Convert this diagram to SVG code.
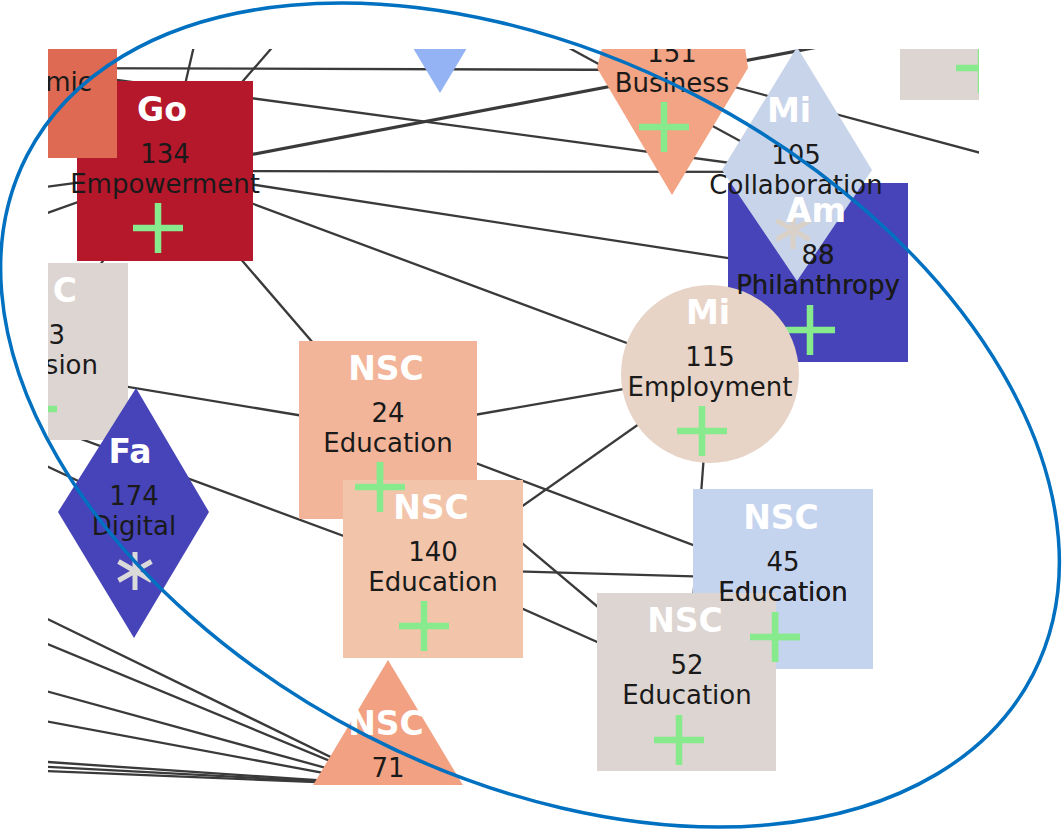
<svg xmlns="http://www.w3.org/2000/svg" xmlns:xlink="http://www.w3.org/1999/xlink" width="1063" height="829" viewBox="0 0 1063 829">
<style>
.e{stroke:#3a3a3a;stroke-width:2.3;fill:none}
.lbl{font-family:"DejaVu Sans","Liberation Sans",sans-serif;font-weight:bold;font-size:33px;fill:#ffffff;text-anchor:middle}
.t{font-family:"DejaVu Sans","Liberation Sans",sans-serif;font-size:26px;fill:#1a1a1a;text-anchor:middle}
.end{text-anchor:end}
</style>
<defs>
<clipPath id="clip"><rect x="48" y="49" width="931" height="736"/></clipPath>
<g id="plus"><path d="M-25 0H25M0 -25V25" stroke="#87eb8d" stroke-width="6.5" fill="none"/></g>
<g id="ast"><path d="M0 -19V19M-16.5 -9.5L16.5 9.5M-16.5 9.5L16.5 -9.5" stroke-width="5" fill="none"/></g>
</defs>
<rect x="0" y="0" width="1063" height="829" fill="#ffffff"/>
<g clip-path="url(#clip)">
<g id="edges">
<line class="e" x1="29" y1="68" x2="671" y2="70"/>
<line class="e" x1="165" y1="171" x2="960" y2="20" style="stroke-width:3.2"/>
<line class="e" x1="29" y1="68" x2="797" y2="172"/>
<line class="e" x1="165" y1="171" x2="797" y2="172"/>
<line class="e" x1="165" y1="171" x2="818" y2="272"/>
<line class="e" x1="165" y1="171" x2="710" y2="374"/>
<line class="e" x1="165" y1="171" x2="388" y2="430"/>
<line class="e" x1="165" y1="171" x2="200" y2="20"/>
<line class="e" x1="165" y1="171" x2="296" y2="20"/>
<line class="e" x1="165" y1="171" x2="40" y2="352"/>
<line class="e" x1="165" y1="171" x2="-200" y2="220"/>
<line class="e" x1="165" y1="171" x2="-200" y2="301"/>
<line class="e" x1="388" y1="430" x2="-100" y2="349"/>
<line class="e" x1="433" y1="569" x2="-100" y2="372"/>
<line class="e" x1="140" y1="510" x2="-100" y2="397"/>
<line class="e" x1="388" y1="785" x2="-100" y2="547"/>
<line class="e" x1="388" y1="785" x2="-100" y2="583"/>
<line class="e" x1="388" y1="785" x2="-100" y2="651"/>
<line class="e" x1="388" y1="785" x2="-100" y2="694"/>
<line class="e" x1="388" y1="785" x2="-100" y2="752"/>
<line class="e" x1="388" y1="785" x2="-100" y2="759"/>
<line class="e" x1="388" y1="785" x2="-100" y2="765"/>
<line class="e" x1="388" y1="430" x2="710" y2="374"/>
<line class="e" x1="433" y1="569" x2="710" y2="374"/>
<line class="e" x1="388" y1="430" x2="783" y2="579"/>
<line class="e" x1="433" y1="569" x2="783" y2="579"/>
<line class="e" x1="388" y1="430" x2="687" y2="682"/>
<line class="e" x1="433" y1="569" x2="687" y2="682"/>
<line class="e" x1="710" y1="374" x2="687" y2="682"/>
<line class="e" x1="797" y1="172" x2="481" y2="0"/>
<line class="e" x1="671" y1="70" x2="1100" y2="185"/>
</g>
<g id="node-blue-triangle"><polygon points="365,-32 515,-32 440,93" fill="#93b3f5"/></g>
<g id="node-business"><polygon points="604,40 744,40 748,68 672,195 597,68" fill="#f3a484"/><use xlink:href="#plus" x="664" y="127"/><text class="t" x="672" y="62">151</text><text class="t" x="672" y="92">Business</text></g>
<g id="node-top-right"><rect x="900" y="-78" width="176" height="178" fill="#ddd5d1"/><use xlink:href="#plus" x="981" y="68"/></g>
<g id="node-go"><rect x="77" y="81" width="176" height="180" fill="#b5172b"/><use xlink:href="#plus" x="158" y="228"/><text class="lbl" x="162" y="121">Go</text><text class="t" x="165" y="163">134</text><text class="t" x="165" y="193">Empowerment</text></g>
<g id="node-mic"><rect x="-59" y="-22" width="176" height="180" fill="#de6a53"/><text class="t end" x="92" y="91">mic</text></g>
<g id="node-sion"><rect x="-48" y="263" width="176" height="177" fill="#ddd5d1"/><use xlink:href="#plus" x="32" y="409"/><text class="lbl end" x="77" y="302">C</text><text class="t end" x="65" y="344">3</text><text class="t end" x="98" y="374">sion</text></g>
<g id="node-fa"><polygon points="136,388 209,512 134,638 58,512" fill="#4644b8"/><use xlink:href="#ast" x="135" y="571" stroke="#dadada"/><text class="lbl" x="130" y="463">Fa</text><text class="t" x="134" y="505">174</text><text class="t" x="134" y="535">Digital</text></g>
<g id="node-nsc24"><rect x="299" y="341" width="178" height="178" fill="#f3b599"/><use id="plus24" xlink:href="#plus" x="380" y="487"/><text class="lbl" x="386" y="380">NSC</text><text class="t" x="388" y="422">24</text><text class="t" x="388" y="452">Education</text></g>
<g id="node-nsc140"><rect x="343" y="480" width="180" height="178" fill="#f2c5ab"/><use xlink:href="#plus" x="424" y="626"/><text class="lbl" x="431" y="519">NSC</text><text class="t" x="433" y="561">140</text><text class="t" x="433" y="591">Education</text></g>
<g id="node-nsc71"><polygon points="388,660 488,827 288,827" fill="#f2a283"/><text class="lbl" x="386" y="735">NSC</text><text class="t" x="388" y="777">71</text></g>
<g id="node-philanthropy"><rect x="728" y="183" width="180" height="179" fill="#4644b8"/><use xlink:href="#plus" x="810" y="330"/><text id="am-l" class="lbl" x="816" y="222">Am</text><text id="am-n" class="t" x="818" y="264">88</text><text id="am-c" class="t" x="818" y="294">Philanthropy</text></g>
<g id="node-collaboration"><polygon points="797,47 872,170 797,281 722,170" fill="#c8d4e9"/><use xlink:href="#ast" x="793" y="230" stroke="#d9d1c8"/><text class="lbl" x="789" y="122">Mi</text><text class="t" x="796" y="164">105</text><text class="t" x="796" y="194">Collaboration</text></g>
<g id="node-employment"><circle cx="710" cy="374" r="89" fill="#e8d4c7"/><use xlink:href="#plus" x="702" y="431"/><text class="lbl" x="708" y="324">Mi</text><text class="t" x="710" y="366">115</text><text class="t" x="710" y="396">Employment</text></g>
<g id="node-nsc45"><rect x="693" y="489" width="180" height="180" fill="#c5d4ee"/><use id="plus45" xlink:href="#plus" x="775" y="637"/><text class="lbl" x="781" y="529">NSC</text><text class="t" x="783" y="571">45</text><text id="ed45" class="t" x="783" y="601">Education</text></g>
<g id="node-nsc52"><rect x="597" y="593" width="179" height="178" fill="#ddd5d1"/><use xlink:href="#plus" x="679" y="740"/><text class="lbl" x="685" y="632">NSC</text><text class="t" x="687" y="674">52</text><text class="t" x="687" y="704">Education</text></g>
<g id="overlay">
<use xlink:href="#plus24"/>
<use xlink:href="#plus45"/>
<use xlink:href="#ed45"/>
<use xlink:href="#am-l"/>
<use xlink:href="#am-n"/>
<use xlink:href="#am-c"/>
</g>
</g>
<ellipse id="highlight" cx="530" cy="415" rx="566" ry="360" transform="rotate(27.3 530 415)" fill="none" stroke="#0070c0" stroke-width="3.5"/>
</svg>
